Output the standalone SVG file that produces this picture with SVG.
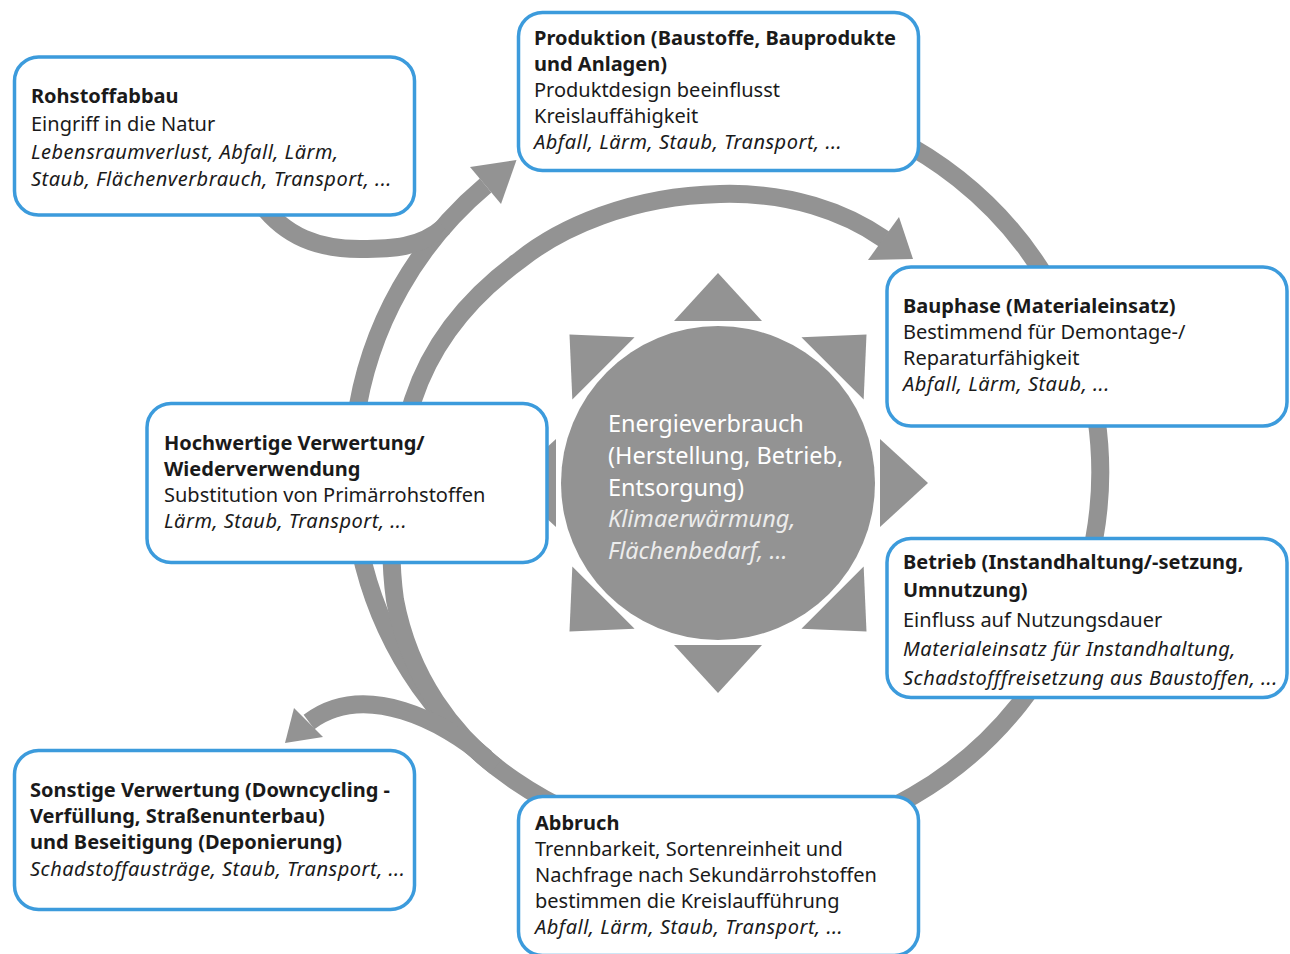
<svg xmlns="http://www.w3.org/2000/svg" xmlns:xlink="http://www.w3.org/1999/xlink" width="1290" height="954" viewBox="0 0 1290 954">
  <style>
    .flow { fill: none; stroke: #939393; stroke-width: 18; }
    .head { fill: #939393; }
    .box { fill: #ffffff; stroke: #3c9bdc; stroke-width: 3.5; }
    .t { font-family: "Noto Sans", "Open Sans", "Liberation Sans", sans-serif; font-size: 20px; fill: #1a1a1a; }
    .b { font-weight: 700; }
    .i { font-style: italic; letter-spacing: 0.5px; }
    .sun { fill: #939393; }
    .st { font-family: "Noto Sans", "Open Sans", "Liberation Sans", sans-serif; font-size: 23.5px; fill: #ffffff; }
    .si { font-style: italic; fill: #ececec; }
  </style>
  <defs>
    <polygon id="ray" points="0,-210 44,-162 -44,-162"/>
  </defs>
  <rect width="1290" height="954" fill="#ffffff"/>

  <!-- connectors: life-cycle ring, reuse arc, raw material feed, disposal branch -->
  <g id="connectors">
    <path class="flow" d="M 539 148.1 A 374 374 0 1 1 913 795.9 A 374 374 0 0 1 485.6 185.5"/>
    <polygon class="head" points="516.5,160 470,167 501,204"/>
    <path class="flow" d="M 258 200 C 285 238, 320 249, 360 249 C 392 249, 420 248, 444 227"/>
    <path class="flow" stroke-width="17" d="M 496 767 C 455 735, 410 680, 395 600 C 388 551, 390 470, 413 400 C 430 348, 465 300, 520 260 C 560 228, 630 196, 720 194 C 790 192, 845 212, 884 239"/>
    <polygon class="head" points="913,259 868,260 899,217"/>
    <path class="flow" stroke-width="17" d="M 486 758 C 445 722, 365 680, 309 722"/>
    <polygon class="head" points="285,743 294,708 323,737"/>
  </g>

  <!-- central energy sun -->
  <g id="energie">
    <g class="sun" transform="translate(718,483)">
      <use xlink:href="#ray"/>
      <use xlink:href="#ray" transform="rotate(45)"/>
      <use xlink:href="#ray" transform="rotate(90)"/>
      <use xlink:href="#ray" transform="rotate(135)"/>
      <use xlink:href="#ray" transform="rotate(180)"/>
      <use xlink:href="#ray" transform="rotate(225)"/>
      <use xlink:href="#ray" transform="rotate(270)"/>
      <use xlink:href="#ray" transform="rotate(315)"/>
      <circle r="157"/>
    </g>
    <text class="st" x="608" y="432">Energieverbrauch</text>
    <text class="st" x="608" y="464">(Herstellung, Betrieb,</text>
    <text class="st" x="608" y="496">Entsorgung)</text>
    <text class="st si" x="608" y="527">Klimaerwärmung,</text>
    <text class="st si" x="608" y="559">Flächenbedarf, ...</text>
  </g>

  <g id="rohstoffabbau">
    <rect class="box" x="14.5" y="57" width="400" height="158" rx="24"/>
    <text class="t b" x="31" y="103">Rohstoffabbau</text>
    <text class="t" x="31" y="131">Eingriff in die Natur</text>
    <text class="t i" x="31" y="159">Lebensraumverlust, Abfall, Lärm,</text>
    <text class="t i" x="31" y="186">Staub, Flächenverbrauch, Transport, ...</text>
  </g>

  <g id="produktion">
    <rect class="box" x="518.5" y="12.5" width="400" height="158" rx="24"/>
    <text class="t b" x="534" y="45">Produktion (Baustoffe, Bauprodukte</text>
    <text class="t b" x="534" y="71">und Anlagen)</text>
    <text class="t" x="534" y="97">Produktdesign beeinflusst</text>
    <text class="t" x="534" y="123">Kreislauffähigkeit</text>
    <text class="t i" x="534" y="149">Abfall, Lärm, Staub, Transport, ...</text>
  </g>

  <g id="bauphase">
    <rect class="box" x="887" y="267" width="400" height="159" rx="24"/>
    <text class="t b" x="903" y="313">Bauphase (Materialeinsatz)</text>
    <text class="t" x="903" y="339">Bestimmend für Demontage-/</text>
    <text class="t" x="903" y="365">Reparaturfähigkeit</text>
    <text class="t i" x="903" y="391">Abfall, Lärm, Staub, ...</text>
  </g>

  <g id="betrieb">
    <rect class="box" x="887" y="538.5" width="400" height="159" rx="24"/>
    <text class="t b" x="903" y="569">Betrieb (Instandhaltung/-setzung,</text>
    <text class="t b" x="903" y="597">Umnutzung)</text>
    <text class="t" x="903" y="627">Einfluss auf Nutzungsdauer</text>
    <text class="t i" x="903" y="656">Materialeinsatz für Instandhaltung,</text>
    <text class="t i" x="903" y="685">Schadstofffreisetzung aus Baustoffen, ...</text>
  </g>

  <g id="abbruch">
    <rect class="box" x="518.5" y="796.5" width="400" height="159" rx="24"/>
    <text class="t b" x="535" y="830">Abbruch</text>
    <text class="t" x="535" y="856">Trennbarkeit, Sortenreinheit und</text>
    <text class="t" x="535" y="882">Nachfrage nach Sekundärrohstoffen</text>
    <text class="t" x="535" y="908">bestimmen die Kreislaufführung</text>
    <text class="t i" x="535" y="934">Abfall, Lärm, Staub, Transport, ...</text>
  </g>

  <g id="hochwertige-verwertung">
    <rect class="box" x="147" y="403.5" width="400" height="159" rx="24"/>
    <text class="t b" x="164" y="450">Hochwertige Verwertung/</text>
    <text class="t b" x="164" y="476">Wiederverwendung</text>
    <text class="t" x="164" y="502">Substitution von Primärrohstoffen</text>
    <text class="t i" x="164" y="528">Lärm, Staub, Transport, ...</text>
  </g>

  <g id="sonstige-verwertung">
    <rect class="box" x="14.5" y="750.5" width="400" height="159" rx="24"/>
    <text class="t b" x="30" y="797">Sonstige Verwertung (Downcycling -</text>
    <text class="t b" x="30" y="823">Verfüllung, Straßenunterbau)</text>
    <text class="t b" x="30" y="849">und Beseitigung (Deponierung)</text>
    <text class="t i" x="30" y="876">Schadstoffausträge, Staub, Transport, ...</text>
  </g>
</svg>
